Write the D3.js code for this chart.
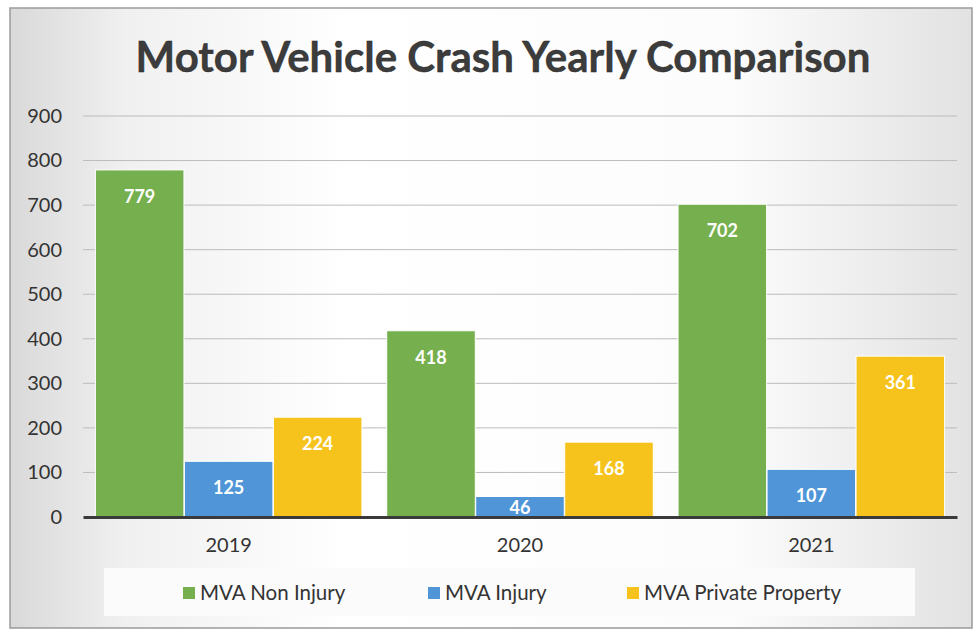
<!DOCTYPE html>
<meta charset="utf-8">
<style>
body { margin: 0; background: #fff; }
.grid line { stroke: #bcbcbc; stroke-width: 1px; }
.axis text { font: 20px Lato, "Open Sans", sans-serif; fill: #333; }
.lbl { font: bold 18px Lato, sans-serif; fill: #fff; }
.legend text { font: 20.5px Lato, sans-serif; fill: #333; }
</style>
<svg width="975" height="629"></svg>
<script src="https://cdn.jsdelivr.net/npm/d3@7"></script>
<script>

var years = ["2019", "2020", "2021"];
var series = ["MVA Non Injury", "MVA Injury", "MVA Private Property"];
var nonInjury = [779, 418, 702];
var injury = [125, 46, 107];
var privateProp = [224, 168, 361];
var yTicks = [0, 100, 200, 300, 400, 500, 600, 700, 800, 900];
var colors = ["#76af4e", "#4f95d8", "#f6c21c"];

var svg = d3.select("svg"),
    width = +svg.attr("width"),
    height = +svg.attr("height");

// background gradient (scanned look: gray edges, white middle)
var defs = svg.append("defs");
var grad = defs.append("linearGradient").attr("id", "bg")
    .attr("x1", "0%").attr("x2", "100%").attr("y1", "0%").attr("y2", "0%");
grad.append("stop").attr("offset", "0%").attr("stop-color", "#d9d9d9");
grad.append("stop").attr("offset", "12%").attr("stop-color", "#f0f0f0");
grad.append("stop").attr("offset", "35%").attr("stop-color", "#ffffff");
grad.append("stop").attr("offset", "75%").attr("stop-color", "#fcfcfc");
grad.append("stop").attr("offset", "100%").attr("stop-color", "#e2e2e2");

svg.append("rect")
    .attr("x", 10).attr("y", 8)
    .attr("width", 962).attr("height", 620)
    .attr("fill", "url(#bg)")
    .attr("stroke", "#9a9a9a")
    .attr("stroke-width", 1.5);

// title
svg.append("text")
    .attr("x", 503).attr("y", 72)
    .attr("text-anchor", "middle")
    .style("font", "bold 42px Lato, sans-serif")
    .style("fill", "#3c3c3c")
    .style("stroke", "#222")
    .style("stroke-width", 0.4)
    .text("Motor Vehicle Crash Yearly Comparison");

var y = d3.scaleLinear()
    .domain([0, 900])
    .range([517, 116]);

var x0 = d3.scaleBand()
    .domain(years)
    .range([83, 957])
    .paddingInner(0.082)
    .paddingOuter(0.041);

var x1 = d3.scaleBand()
    .domain(d3.range(series.length))
    .range([0, x0.bandwidth()])
    .padding(0.005);

// gridlines
svg.append("g").attr("class", "grid")
  .selectAll("line")
  .data(yTicks.slice(1))
  .enter().append("line")
    .attr("x1", 83).attr("x2", 957)
    .attr("y1", function(d) { return y(d); })
    .attr("y2", function(d) { return y(d); });

// y axis labels
svg.append("g").attr("class", "axis")
    .attr("transform", "translate(62,0)")
    .call(d3.axisLeft(y).tickValues(yTicks).tickSize(0).tickPadding(0))
    .call(function(g) { g.select(".domain").remove(); });

var data = years.map(function(yr, i) {
  return {year: yr, values: [nonInjury[i], injury[i], privateProp[i]]};
});

var groups = svg.append("g")
  .selectAll("g")
  .data(data)
  .enter().append("g")
    .attr("transform", function(d) { return "translate(" + x0(d.year) + ",0)"; });

var bars = groups.selectAll("g")
  .data(function(d) { return d.values.map(function(v, k) { return {k: k, v: v}; }); })
  .enter().append("g");

bars.append("rect")
    .attr("x", function(d) { return x1(d.k); })
    .attr("width", x1.bandwidth())
    .attr("y", function(d) { return y(d.v); })
    .attr("height", function(d) { return y(0) - y(d.v); })
    .attr("fill", function(d) { return colors[d.k]; })
    .attr("stroke", "#fff")
    .attr("stroke-width", 1);

bars.append("text")
    .attr("class", "lbl")
    .attr("x", function(d) { return x1(d.k) + x1.bandwidth() / 2; })
    .attr("y", function(d) { return Math.min(y(d.v) + 33, y(0) - 3); })
    .attr("text-anchor", "middle")
    .text(function(d) { return d.v; });

// x axis line
svg.append("g").attr("class", "axis")
    .attr("transform", "translate(0,517)")
    .call(d3.axisBottom(x0).tickSize(0).tickPadding(21))
    .call(function(g) {
      g.select(".domain").attr("stroke", "#3a3a3a").attr("stroke-width", 3);
    });

// legend
var legend = svg.append("g").attr("class", "legend");
legend.append("rect")
    .attr("x", 104).attr("y", 568)
    .attr("width", 811).attr("height", 48)
    .attr("fill", "#fbfbfb");

var legX = [183, 428, 627];
var item = legend.selectAll("g.item")
  .data(series)
  .enter().append("g").attr("class", "item")
    .attr("transform", function(d, i) { return "translate(" + legX[i] + ",587)"; });

item.append("rect")
    .attr("width", 12).attr("height", 12)
    .attr("fill", function(d, i) { return colors[i]; });

item.append("text")
    .attr("x", 17).attr("y", 13)
    .text(function(d) { return d; });

</script>
